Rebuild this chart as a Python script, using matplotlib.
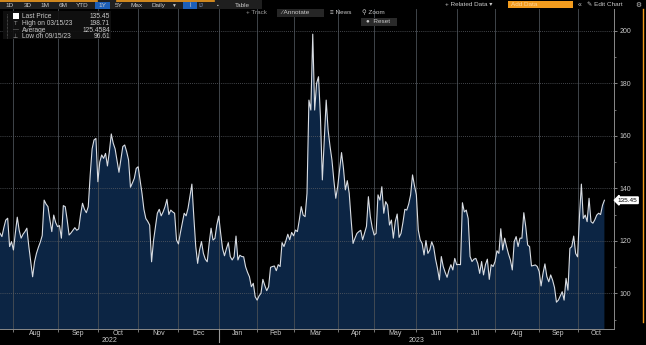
import matplotlib
matplotlib.use("Agg")
import matplotlib.pyplot as plt
from matplotlib.patches import Rectangle
from matplotlib.transforms import blended_transform_factory
import numpy as np

plt.rcParams["font.family"] = ["Liberation Sans", "DejaVu Sans"]

# daily closes, one per trading session starting 2022-07-21
start_date = "2022-07-21"
holidays = ["2022-09-05", "2022-11-24", "2022-12-26", "2023-01-02", "2023-01-16",
            "2023-02-20", "2023-04-07", "2023-05-29", "2023-06-19", "2023-07-04",
            "2023-09-04"]
closes = [
    122.9, 121.6, 125.0, 127.9, 128.6, 117.8, 119.7, 116.5, 123.0, 129.0,
    124.0, 121.0, 122.5, 123.5, 124.8, 118.0, 112.0, 106.3, 112.0, 115.2,
    117.5, 119.5, 122.0, 135.5, 134.0, 133.0, 128.0, 123.5, 129.8, 127.0,
    125.4, 125.8, 121.0, 133.4, 133.0, 128.0, 122.2, 123.0, 124.0, 125.0,
    124.0, 124.5, 130.0, 134.3, 132.0, 130.7, 133.0, 145.0, 155.0, 158.4,
    159.0, 142.5, 150.0, 152.7, 151.4, 153.3, 148.5, 154.0, 160.7, 157.2,
    155.0, 150.5, 146.1, 151.0, 155.9, 156.5, 154.0, 150.8, 140.4, 142.0,
    143.8, 147.6, 148.2, 143.0, 138.1, 132.0, 128.5, 127.4, 126.0, 112.0,
    120.0, 125.4, 130.5, 132.0, 129.5, 131.0, 133.0, 135.8, 130.0, 131.7,
    131.0, 130.5, 120.3, 118.8, 123.0, 126.7, 130.5, 129.5, 132.4, 137.0,
    141.6, 129.3, 118.0, 111.4, 116.5, 119.7, 115.2, 113.0, 112.0, 119.0,
    124.8, 120.3, 120.9, 126.0, 129.4, 122.9, 117.0, 114.3, 117.0, 119.3,
    114.0, 112.7, 113.9, 121.8, 112.7, 114.5, 114.0, 113.9, 110.1, 108.0,
    106.3, 102.5, 103.8, 98.7, 97.4, 99.0, 100.0, 105.3, 103.0, 101.0,
    102.5, 109.9, 110.2, 110.4, 108.6, 110.9, 110.2, 119.3, 117.8, 120.0,
    122.5, 120.4, 123.2, 121.9, 124.1, 123.5, 128.0, 133.0, 129.8, 129.2,
    138.1, 173.6, 169.8, 198.71, 169.8, 180.0, 182.5, 167.3, 143.2, 158.0,
    173.6, 162.2, 156.0, 150.8, 143.0, 136.2, 140.7, 147.0, 153.6, 147.6,
    139.4, 142.9, 138.1, 128.0, 119.0, 121.0, 122.8, 123.5, 124.0, 120.4,
    123.0, 125.5, 136.8, 129.2, 125.0, 122.2, 122.8, 137.5, 135.5, 140.6,
    130.5, 134.9, 133.6, 126.0, 127.9, 121.0, 127.3, 130.2, 121.3, 122.8,
    127.0, 132.0, 131.7, 134.0, 137.5, 145.1, 141.0, 137.5, 124.1, 120.3,
    119.0, 114.6, 120.1, 115.2, 116.5, 119.6, 117.7, 113.0, 109.5, 105.1,
    114.0, 110.2, 108.0, 106.1, 108.9, 110.9, 108.9, 113.3, 110.9, 111.0,
    110.9, 134.5, 131.0, 131.7, 128.5, 114.0, 112.1, 113.0, 113.3, 111.4,
    107.6, 112.1, 107.0, 110.9, 113.0, 105.3, 110.9, 110.2, 112.1, 116.2,
    115.2, 124.6, 116.5, 121.0, 117.8, 115.0, 112.7, 108.9, 119.7, 121.6,
    117.8, 121.0, 121.0, 130.7, 125.4, 118.4, 117.8, 110.4, 110.6, 110.8,
    110.2, 108.3, 102.8, 107.6, 111.2, 106.4, 104.4, 107.0, 105.0, 102.2,
    96.61, 97.4, 99.0, 100.6, 97.4, 105.7, 101.2, 117.1, 117.8, 121.8,
    115.2, 113.9, 129.2, 141.6, 128.5, 129.8, 127.3, 136.2, 127.3, 126.7,
    128.0, 129.8, 130.5, 130.0, 133.5, 135.45,
]
legend_rows = [
    ("Last Price", "135.45"),
    ("High on 03/15/23", "198.71"),
    ("Average", "125.4584"),
    ("Low on 09/15/23", "96.61"),
]
range_buttons = ["1D", "3D", "1M", "6M", "YTD", "1Y", "5Y", "Max"]
month_names = ["Jan", "Feb", "Mar", "Apr", "May", "Jun", "Jul", "Aug", "Sep", "Oct", "Nov", "Dec"]

BG = "#000000"
FILL = "#0c2544"
LINE = "#d9dde3"
GRID = "#4a4f55"
TXT = "#c9c9c9"
ORANGE = "#f39c1e"

values = np.array(closes)
x = np.arange(len(values))
dates = np.busday_offset(start_date, x, roll="forward", holidays=holidays)
months = dates.astype("datetime64[M]")
years = dates.astype("datetime64[Y]").astype(int) + 1970
x_max = 320

W, H = 646, 345
fig = plt.figure(figsize=(W / 100, H / 100), dpi=100, facecolor=BG)
ax = fig.add_axes([0, 16 / H, 614 / W, 320 / H], facecolor=BG)

ax.fill_between(x, values, 0, color=FILL, lw=0, zorder=1)
ax.plot(x, values, color=LINE, lw=0.8, zorder=3)
ax.set_xlim(0, x_max)
ax.set_ylim(86.4, 208.3)

# month boundaries = first session of each month
starts = [0] + [i for i in range(1, len(x)) if months[i] != months[i - 1]]
bounds = starts[1:]
ax.set_xticks(bounds)
ax.set_xticklabels([])
ax.tick_params(axis="x", length=2, color="#8a8a8a", width=0.6)
for b in bounds:
    ax.axvline(b, color=GRID, lw=0.6, zorder=2)

# right-hand price scale
ax.yaxis.tick_right()
ax.set_yticks(np.arange(100, 201, 20))
ax.set_yticks(np.arange(90, 201, 10), minor=True)
ax.tick_params(axis="y", which="major", length=2.5, width=0.6, color="#9a9a9a", labelsize=5,
               labelcolor=TXT, pad=1.5)
ax.tick_params(axis="y", which="minor", length=1.5, width=0.5, color="#9a9a9a")
for v in np.arange(100, 201, 20):
    ax.axhline(v, color="#5a5e64", lw=0.6, ls=(0, (1, 1.5)), zorder=2)

for side in ["top", "left"]:
    ax.spines[side].set_visible(False)
for side in ["right", "bottom"]:
    ax.spines[side].set_color("#8a8a8a")
    ax.spines[side].set_linewidth(0.7)

last = values[-1]
ax.text(1.006, last, f"{last:.2f}", transform=blended_transform_factory(ax.transAxes, ax.transData),
        ha="left", va="center", fontsize=4.6, color="black",
        bbox=dict(boxstyle="larrow,pad=0.12", fc="white", ec="white"))

# overlay in pixel coordinates for the toolbar, date labels and legend panel
ov = fig.add_axes([0, 0, 1, 1], facecolor="none")
ov.set_xlim(0, W)
ov.set_ylim(H, 0)
ov.axis("off")

px_per_day = 614 / x_max
edges = starts + [x_max]
for s, e in zip(edges[:-1], edges[1:]):
    if e - s < 10:
        continue
    m = int(str(months[s])[5:7])
    ov.text((s + e) / 2 * px_per_day, 333.5, month_names[m - 1], ha="center", va="center",
            fontsize=5, color=TXT)

year_starts = [0] + [i for i in range(1, len(x)) if years[i] != years[i - 1]]
year_edges = year_starts + [x_max]
for s, e in zip(year_edges[:-1], year_edges[1:]):
    ov.text((s + e) / 2 * px_per_day, 340.3, str(years[s]), ha="center", va="center",
            fontsize=5, color=TXT)
for s in year_starts[1:]:
    ov.plot([s * px_per_day] * 2, [329, 342], color="#9a9a9a", lw=0.8)

ov.plot([642.5, 642.5], [9, 322], color=ORANGE, lw=1)

ov.add_patch(Rectangle((0, 0), 262, 9, fc="#1f1f1f", ec="none"))
ov.plot([0, 97], [0.5, 0.5], color=ORANGE, lw=1.2)
ov.plot([117, 214], [0.5, 0.5], color=ORANGE, lw=1.2)
bx = [10, 28, 45, 63, 82, 102, 119, 137]
for label, px in zip(range_buttons, bx):
    if label == "1Y":
        ov.add_patch(Rectangle((95, 1.5), 15, 7, fc="#1d5fb8", ec="none"))
    ov.text(px, 5.2, label, ha="center", va="center", fontsize=4.6, color=TXT)
ov.text(159, 5.2, "Daily", ha="center", va="center", fontsize=4.6, color=TXT)
ov.text(173, 5.2, "▼", ha="center", va="center", fontsize=3.5, color=TXT)
ov.add_patch(Rectangle((183, 1.5), 14, 7, fc="#1d5fb8", ec="none"))
ov.text(190, 5.2, "⌇", ha="center", va="center", fontsize=4.6, color=TXT)
ov.text(201, 5.2, "IJ", ha="center", va="center", fontsize=4.6, color="#7d8fb0")
ov.text(218, 5.2, "▪", ha="center", va="center", fontsize=3.5, color=TXT)
ov.text(242, 5.2, "Table", ha="center", va="center", fontsize=4.6, color=TXT)

ov.text(445, 5, "+ Related Data ▾", ha="left", va="center", fontsize=4.6, color=TXT)
ov.add_patch(Rectangle((508, 1), 65, 7, fc=ORANGE, ec="none"))
ov.text(511, 4.8, "Add Data", ha="left", va="center", fontsize=4.6, color="#ffd59a")
ov.text(580, 5, "«", ha="center", va="center", fontsize=5, color=TXT)
ov.text(587, 5, "✎ Edit Chart", ha="left", va="center", fontsize=4.6, color=TXT)
ov.text(638, 5, "⚙", ha="center", va="center", fontsize=4.8, color=TXT)

ov.text(246, 12.5, "+ Track", ha="left", va="center", fontsize=4.6, color="#9a9a9a")
ov.add_patch(Rectangle((277, 9), 47, 7.5, fc="#262626", ec="none"))
ov.text(281, 12.5, "⁄ Annotate", ha="left", va="center", fontsize=4.6, color=TXT)
ov.text(330, 12.5, "≡ News", ha="left", va="center", fontsize=4.6, color=TXT)
ov.text(362, 12.5, "⚲ Zoom", ha="left", va="center", fontsize=4.6, color=TXT)
ov.add_patch(Rectangle((361, 17.5), 36, 8, fc="#2a2a2a", ec="none"))
ov.text(366, 21.6, "●  Reset", ha="left", va="center", fontsize=4.6, color=TXT)

ov.add_patch(Rectangle((3, 11), 108, 28, fc="#111111", ec="none", alpha=0.9))
ov.plot([7, 7], [14, 38], color="#777777", lw=0.5, ls=(0, (1, 1)))
ov.add_patch(Rectangle((13, 13), 5.5, 5.5, fc="white", ec="none"))
icons = ["", "T", "—", "⊥"]
row_y = [16, 23.3, 30.3, 37]
for (name, val), icon, ry in zip(legend_rows, icons, row_y):
    if icon:
        ov.text(15.5, ry, icon, ha="center", va="center", fontsize=4.2, color="#9a9a9a")
    ov.text(21.5, ry, name, ha="left", va="center", fontsize=4.8, color=TXT)
    ov.text(110, ry, val, ha="right", va="center", fontsize=4.8, color=TXT)

fig.savefig("out.png", dpi=100, facecolor=BG)
